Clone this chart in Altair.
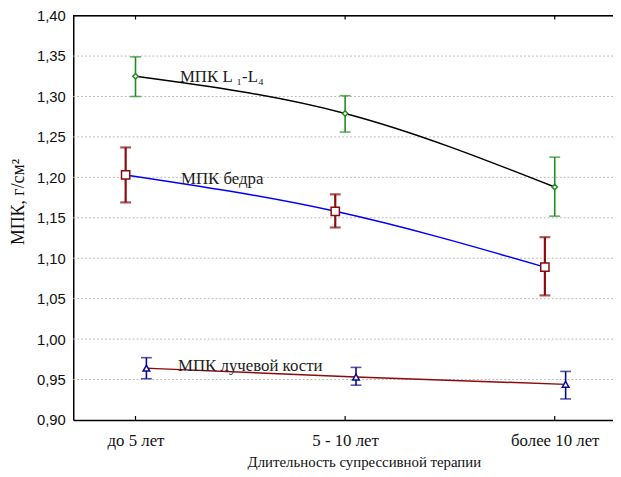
import altair as alt
import pandas as pd

categories = ["до 5 лет", "5 - 10 лет", "более 10 лет"]
cat_pos = [1, 2, 3]

series = ["МПК L1-L4", "МПК бедра", "МПК лучевой кости"]
l14_mean = [1.325, 1.279, 1.188]
l14_lo = [1.300, 1.256, 1.152]
l14_hi = [1.349, 1.301, 1.225]

hip_mean = [1.203, 1.158, 1.089]
hip_lo = [1.169, 1.138, 1.054]
hip_hi = [1.237, 1.179, 1.126]

rad_mean = [0.964, 0.953, 0.944]
rad_lo = [0.951, 0.943, 0.926]
rad_hi = [0.977, 0.965, 0.960]

# styling (offsets for dodge, colours, shapes)
offsets = {"l14": 0.0, "hip": -0.047, "rad": 0.052}
marker_col = {"l14": "#1e8c1e", "hip": "#8b0a0a", "rad": "#0a0a8b"}
line_col = {"l14": "#000000", "hip": "#0000ff", "rad": "#8b0a0a"}
shapes = {"l14": "diamond", "hip": "square", "rad": "triangle-up"}
sizes = {"l14": 30, "hip": 70, "rad": 45}
bar_w = {"l14": 1.6, "hip": 2.2, "rad": 1.6}

W, H = 546, 409
xdom = [0.703, 3.278]
ydom = [0.90, 1.40]

xs = alt.Scale(domain=xdom, nice=False, zero=False)
ys = alt.Scale(domain=ydom, nice=False, zero=False)

rows = []
for key, m, lo, hi in [("l14", l14_mean, l14_lo, l14_hi),
                       ("hip", hip_mean, hip_lo, hip_hi),
                       ("rad", rad_mean, rad_lo, rad_hi)]:
    for i in range(3):
        rows.append({"s": key, "x": cat_pos[i] + offsets[key], "m": m[i], "lo": lo[i], "hi": hi[i]})
df = pd.DataFrame(rows)

base = alt.Chart(df)

layers = []
# gridlines
grid = alt.Chart(pd.DataFrame({"g": [0.95, 1.00, 1.05, 1.10, 1.15, 1.20, 1.25, 1.30, 1.35]})).mark_rule(
    color="#bbbbbb", strokeDash=[2, 2], strokeWidth=1
).encode(y=alt.Y("g:Q", scale=ys), x=alt.value(0), x2=alt.value(W))
layers.append(grid)

for key in ["l14", "hip", "rad"]:
    d = base.transform_filter(alt.datum.s == key)
    line = d.mark_line(color=line_col[key], strokeWidth=1.5, interpolate="natural").encode(
        x=alt.X("x:Q", scale=xs), y=alt.Y("m:Q", scale=ys))
    layers.append(line)
for key in ["l14", "hip", "rad"]:
    d = base.transform_filter(alt.datum.s == key)
    bar = d.mark_rule(color=marker_col[key], strokeWidth=bar_w[key]).encode(
        x=alt.X("x:Q", scale=xs), y=alt.Y("lo:Q", scale=ys), y2="hi:Q")
    cap1 = d.mark_tick(color=marker_col[key], orient="horizontal", size=11, thickness=bar_w[key]).encode(
        x=alt.X("x:Q", scale=xs), y=alt.Y("lo:Q", scale=ys))
    cap2 = d.mark_tick(color=marker_col[key], orient="horizontal", size=11, thickness=bar_w[key]).encode(
        x=alt.X("x:Q", scale=xs), y=alt.Y("hi:Q", scale=ys))
    pt = d.mark_point(shape=shapes[key], size=sizes[key], filled=True, fill="white",
                      stroke=marker_col[key], strokeWidth=1.5, opacity=1).encode(
        x=alt.X("x:Q", scale=xs), y=alt.Y("m:Q", scale=ys))
    layers += [bar, cap1, cap2, pt]

# series labels
lab = pd.DataFrame({
    "t": ["МПК L ₁-L₄", "МПК бедра", "МПК лучевой кости"],
    "x": [1.212, 1.217, 1.203],
    "y": [1.318, 1.192, 0.961],
})
labels = alt.Chart(lab).mark_text(font="Liberation Serif", fontSize=17, align="left",
                                   baseline="alphabetic", color="#222222").encode(
    x=alt.X("x:Q", scale=xs), y=alt.Y("y:Q", scale=ys), text="t:N")
layers.append(labels)

# inward ticks on bottom and top frame
tk = pd.DataFrame({"c": cat_pos})
tb = alt.Chart(tk).mark_rule(color="black", strokeWidth=1.2).encode(
    x=alt.X("c:Q", scale=xs), y=alt.value(H - 4), y2=alt.value(H))
tt = alt.Chart(tk).mark_rule(color="black", strokeWidth=1.2).encode(
    x=alt.X("c:Q", scale=xs), y=alt.value(0), y2=alt.value(4))
topline = alt.Chart(tk).mark_rule(color="black", strokeWidth=1.5).encode(
    x=alt.value(0), x2=alt.value(W), y=alt.value(0))
layers += [tb, tt, topline]

# axes carrier
lbl_expr = "datum.value == 1 ? '%s' : datum.value == 2 ? '%s' : datum.value == 3 ? '%s' : ''" % tuple(categories)
axes = alt.Chart(tk).mark_point(opacity=0).encode(
    x=alt.X("c:Q", scale=xs, title="Длительность супрессивной терапии",
            axis=alt.Axis(values=cat_pos, labelExpr=lbl_expr, grid=False, ticks=False,
                          labelFont="Liberation Serif", labelFontSize=17, labelColor="#111111",
                          labelPadding=13, titleFont="Liberation Serif", titleFontSize=15,
                          titleFontWeight="normal", titleColor="#111111", titlePadding=6,
                          titleX=294, domainColor="black", domainWidth=1.5)),
    y=alt.Y(field="c", type="quantitative", scale=ys, title="МПК, г/см²",
            axis=alt.Axis(values=[0.90, 0.95, 1.00, 1.05, 1.10, 1.15, 1.20, 1.25, 1.30, 1.35, 1.40],
                          labelExpr="replace(format(datum.value, '.2f'), '.', ',')",
                          grid=False, ticks=False, labelFont="Liberation Sans", labelFontSize=15,
                          labelColor="#111111", labelPadding=8, titleFont="Liberation Serif",
                          titleFontSize=18, titleFontWeight="normal", titleColor="#111111",
                          titlePadding=9, titleY=188, domainColor="black", domainWidth=1.5)),
)
layers.insert(0, axes)

chart = alt.layer(*layers).properties(
    width=W, height=H,
    autosize=alt.AutoSizeParams(type="none"),
    padding={"left": 66, "top": 5, "right": 0, "bottom": 55},
    background="white",
).configure_view(stroke=None)

chart.save("out.html", embed_options={"renderer": "svg", "actions": False})
